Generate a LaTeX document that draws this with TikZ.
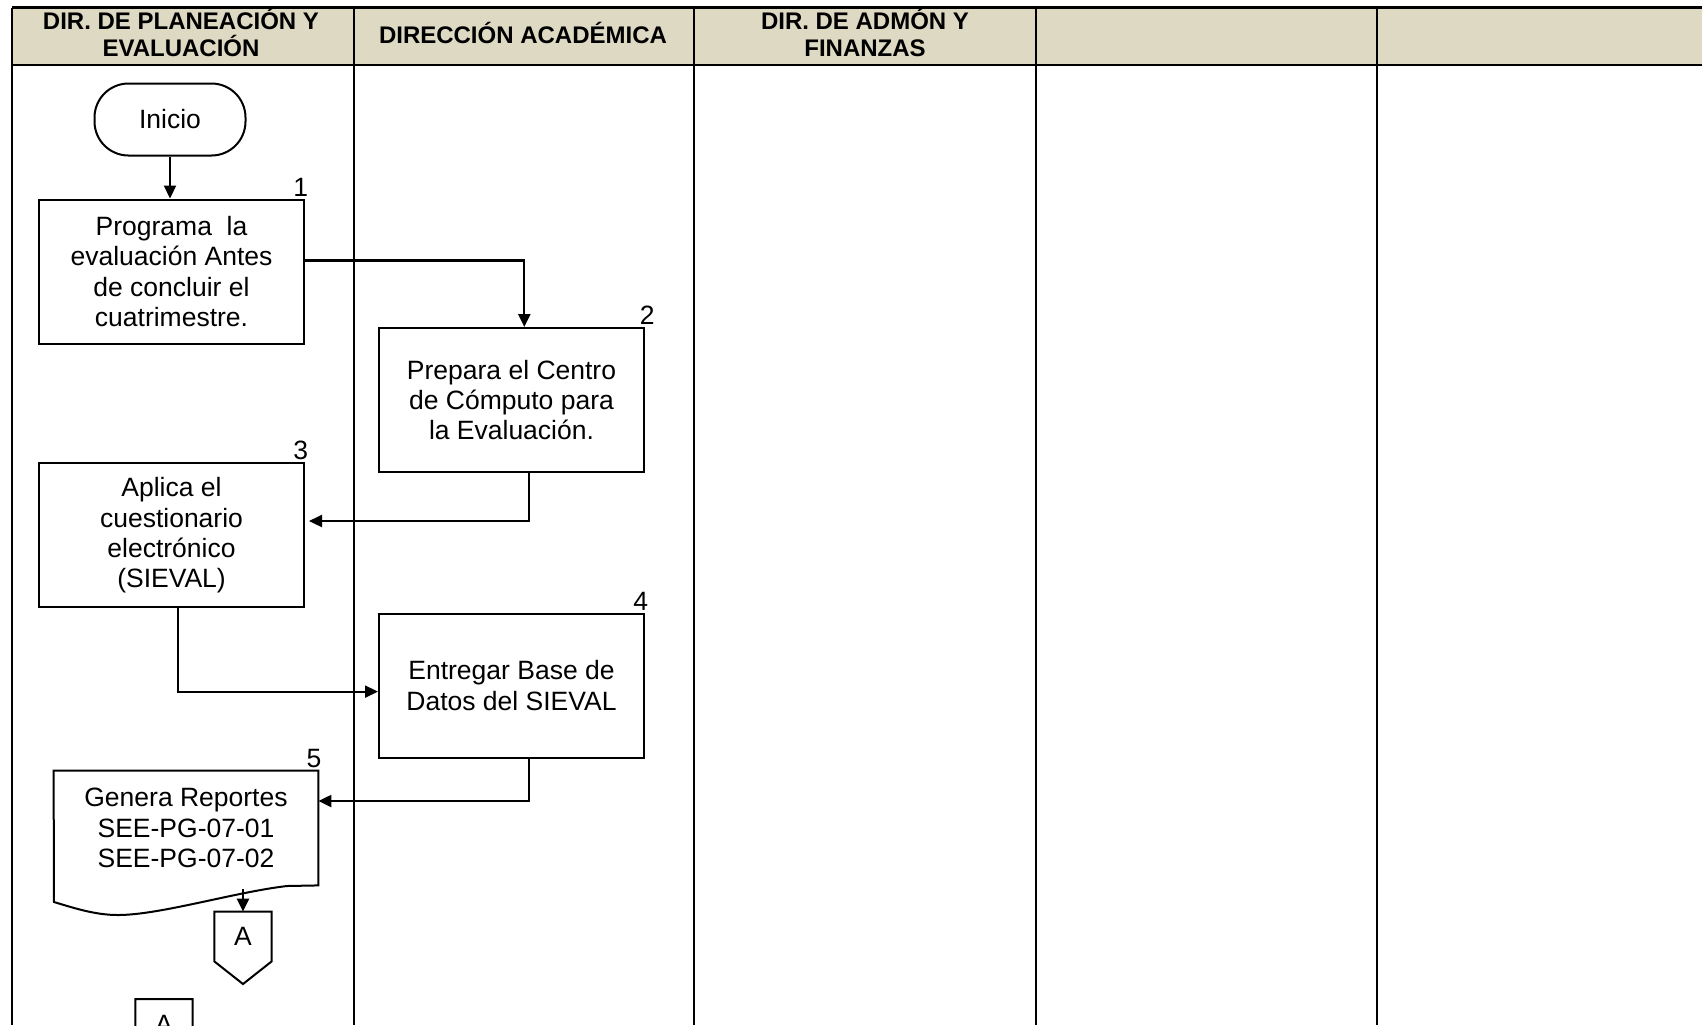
\documentclass[tikz,border=0pt]{standalone}
\usepackage{fontspec}
\setmainfont{Liberation Sans}
\usetikzlibrary{arrows.meta}
\definecolor{headfill}{RGB}{221,217,195}

\begin{document}
\begin{tikzpicture}[x=0.5pt,y=-0.5pt,>={Triangle[length=6.5pt,width=6pt]},
        font=\fontsize{13.25}{15.2}\selectfont,
        act/.style={draw,line width=1pt,minimum width=132.5pt,minimum height=72pt,
                    align=center,inner sep=0pt},
        num/.style={label={[anchor=south east,inner sep=1pt,xshift=2.7pt]north east:#1}},
        flow/.style={->,line width=1.1pt},
        lane/.style={line width=1.4pt},
        head/.style={font=\fontsize{12}{13.5}\selectfont\bfseries,align=center}]

  \clip (0,0) rectangle (1702,1025);

  % swimlanes
  \fill[headfill] (12,7.6) rectangle (1702,65);
  \draw[lane] (12,7.6) -- (1702,7.6) (12,65) -- (1702,65);
  \foreach \x in {12,354,694,1036,1377}
    \draw[lane] (\x,7.6) -- (\x,1025);

  \node[head] (h_1) at (181,32) {DIR. DE PLANEACIÓN Y\\EVALUACIÓN};
  \node[head] (h_2) at (523,33) {DIRECCIÓN ACADÉMICA};
  \node[head] (h_3) at (865,32) {DIR. DE ADMÓN Y\\FINANZAS};

  % activities
  \node[draw,line width=1pt,rounded corners=17pt,minimum width=75.5pt,
        minimum height=36pt] (inicio) at (170,119.5) {Inicio};
  \node[act,num=1] (act_1) at (171.5,271.5) {Programa\ \ la\\evaluación Antes\\de concluir el\\cuatrimestre.};
  \node[act,label={[anchor=south east,inner sep=1pt,xshift=6pt]north east:2}] (act_2) at (511.5,400) {Prepara el Centro\\de Cómputo para\\la Evaluación.};
  \node[act,num=3] (act_3) at (171.5,535.4) {Aplica el\\cuestionario\\electrónico\\(SIEVAL)};
  \node[act,num=4] (act_4) at (511.5,685.6) {Entregar Base de\\Datos del SIEVAL};
  \node[minimum width=132pt,minimum height=57pt,inner sep=0pt,align=center,num=5]
        (act_5) at (186,828) {Genera Reportes\\SEE-PG-07-01\\SEE-PG-07-02};
  \draw[line width=1pt] (act_5.south east) -- (287,886)
        .. controls (235,892) and (160,915) .. (118,915)
        .. controls (95,915) and (74,908) .. (54,902)
        -- (act_5.north west) -- (act_5.north east) -- cycle;

  % connectors
  \node[minimum width=28.25pt,minimum height=24.5pt,inner sep=0pt] (con_a) at (243,936.5) {A};
  \draw[line width=1pt] (con_a.south west) -- (con_a.north west) -- (con_a.north east)
        -- (con_a.south east) -- ([yshift=-11.3pt]con_a.south) -- cycle;
  \node[minimum width=28.25pt,minimum height=24.5pt,inner sep=0pt] (con_b) at (164,1024) {A};
  \draw[line width=1pt] (con_b.south west) -- (con_b.north west) -- (con_b.north east)
        -- (con_b.south east) -- ([yshift=-11.3pt]con_b.south) -- cycle;

  % flow
  \draw[flow] (inicio.south) -- (inicio.south |- act_1.north);
  \draw[flow] ([yshift=5.5pt]act_1.east) -| ([xshift=6.4pt]act_2.north);
  \draw[flow] ([xshift=8.6pt]act_2.south) |- ([yshift=7.2pt,xshift=2pt]act_3.east);
  \draw[flow] ([xshift=3.2pt]act_3.south) |- ([yshift=-3pt]act_4.west);
  \draw[flow] ([xshift=8.6pt]act_4.south) |- ([yshift=13.5pt]act_5.east);
  \draw[flow] ([yshift=-2pt]act_5.south -| con_a.north) -- (con_a.north);

\end{tikzpicture}
\end{document}
